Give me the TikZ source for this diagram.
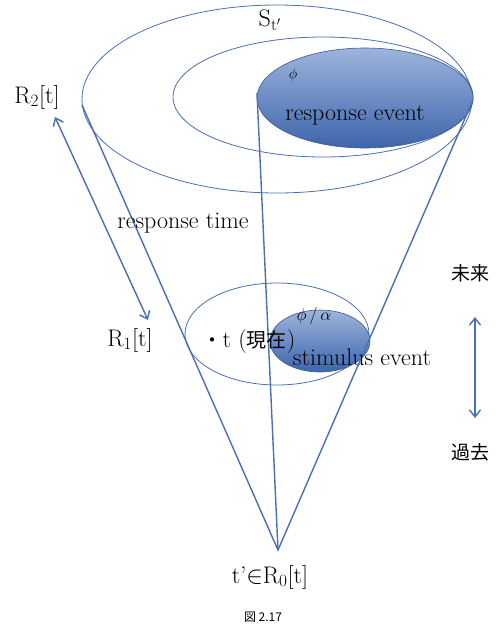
\documentclass[tikz,border=0pt]{standalone}
\usepackage{fontspec}
\newfontfamily\cjk{Noto Sans CJK JP}
\usetikzlibrary{arrows.meta}
\definecolor{lineblue}{HTML}{4A70B0}
\definecolor{filltop}{HTML}{9DB4DC}
\definecolor{fillbot}{HTML}{3D65AB}
\begin{document}
\begin{tikzpicture}[x=1pt,y=-1pt,
  ring/.style={draw=lineblue,line width=0.8pt},
  event/.style={draw=lineblue!80!black,line width=0.6pt,top color=filltop,bottom color=fillbot},
  coneline/.style={draw=lineblue,line width=1.4pt},
  dblarrow/.style={draw=lineblue,line width=1.4pt,{Straight Barb[length=7pt,width=11pt]}-{Straight Barb[length=7pt,width=11pt]}},
  lbl/.style={font=\fontsize{24}{26}\selectfont,inner sep=0pt},
  jlbl/.style={font=\fontsize{19}{21}\selectfont\cjk,inner sep=0pt}]
\useasboundingbox (0,0) rectangle (501,627);
\fill[white] (0,0) rectangle (501,627);
% rings
\draw[ring] (277,99) ellipse [x radius=195, y radius=94];
\draw[ring] (323,97) ellipse [x radius=150, y radius=60];
\path[event] (365,98) ellipse [x radius=108, y radius=50];
\draw[ring] (277,334) ellipse [x radius=92, y radius=51];
\path[event] (320,341) ellipse [x radius=50, y radius=31];
% cone
\coordinate (apex) at (278,550);
\coordinate (outL) at (82,105);
\coordinate (outR) at (473,100);
\coordinate (evL) at (257,93);
\draw[coneline] (outL) -- (apex) -- (outR);
\draw[coneline] (evL) -- (apex);
% arrows
\coordinate (r2end) at (55,117);
\coordinate (r1end) at (148,320);
\draw[dblarrow] (r2end) -- (r1end);
\coordinate (futend) at (475,317);
\coordinate (pastend) at (475,418);
\draw[dblarrow] (futend) -- (pastend);
% labels
\node[lbl] (S) at (270,20) {S$_{\mathrm{t'}}$};
\node[lbl] (R2) at (37,97) {R$_2$[t]};
\node[inner sep=0pt,font=\fontsize{15}{17}\selectfont] (phi) at (293,75) {$\phi$};
\node[lbl] (resp) at (355,115) {response event};
\node[lbl] (rtime) at (183,223) {response time};
\node[lbl] (R1) at (130,340) {R$_1$[t]};
\node[lbl] (now) at (249,342) {{\fontsize{20}{22}\selectfont\cjk ・}t ({\fontsize{20}{22}\selectfont\cjk 現在})};
\node[inner sep=0pt,font=\fontsize{19}{21}\selectfont] (phia) at (314,316) {$\phi\,/\,\alpha$};
\node[lbl] (stim) at (362,357) {stimulus event};
\node[jlbl] (future) at (470,273) {未来};
\node[jlbl] (past) at (470,452) {過去};
\node[lbl] (t0) at (270,577) {t'$\in$R$_0$[t]};
\node[font=\fontsize{12}{14}\selectfont\cjk,inner sep=0pt] (cap) at (263,617) {図 2.17};
\end{tikzpicture}
\end{document}
